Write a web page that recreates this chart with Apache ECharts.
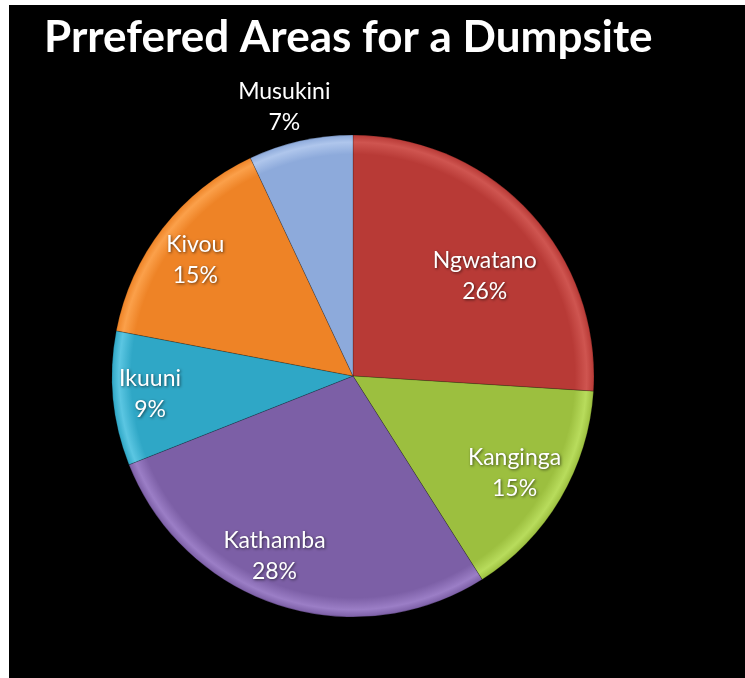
<!DOCTYPE html>
<html>
<head>
<meta charset="utf-8">
<style>
html,body{margin:0;padding:0;background:#fff;}
#c{position:absolute;left:9px;top:5px;width:736px;height:673px;background:#000;}
</style>
<script src="https://cdn.jsdelivr.net/npm/echarts@6/dist/echarts.min.js"></script>
</head>
<body>
<div id="c"></div>
<script>
var titleText = 'Prrefered Areas for a Dumpsite';
var categories = ['Ngwatano', 'Kanginga', 'Kathamba', 'Ikuuni', 'Kivou', 'Musukini'];
var values = [26, 15, 28, 9, 15, 7];
var colors = ['#B83A36', '#9CBF3F', '#7C5FA6', '#2FA7C6', '#EE8326', '#8DAADB'];
var lightColors = ['#CF5550', '#B8DC5C', '#9B7EC6', '#5BC6E2', '#FBA04A', '#AFC6EC'];
// label nudges (px) relative to the library's label placement
var nudgeX = [-11, -7, -18, -8, -3, -26];
var nudgeY = [34, -3, -6, 0, 4, -78];

var cx = 344, cy = 371, R = 241;
var chart = echarts.init(document.getElementById('c'), null, {renderer: 'canvas'});

function grad(i) {
  return {
    type: 'radial', x: cx, y: cy, r: R, global: true,
    colorStops: [
      {offset: 0, color: colors[i]},
      {offset: 0.92, color: colors[i]},
      {offset: 0.97, color: lightColors[i]},
      {offset: 1, color: colors[i]}
    ]
  };
}

var mainData = categories.map(function (n, i) {
  return {name: n, value: values[i], itemStyle: {color: grad(i)}};
});
var labelData = categories.map(function (n, i) {
  return {name: n, value: values[i]};
});

chart.setOption({
  backgroundColor: '#000',
  animation: false,
  title: {
    text: titleText,
    left: 30, top: 6,
    textStyle: {color: '#fff', fontFamily: 'Lato', fontWeight: 'bold', fontSize: 44}
  },
  series: [
    {
      type: 'pie',
      center: [cx, cy],
      radius: [0, R],
      startAngle: 90,
      clockwise: true,
      avoidLabelOverlap: false,
      label: {show: false},
      labelLine: {show: false},
      itemStyle: {borderColor: 'rgba(0,0,0,0.2)', borderWidth: 1},
      emphasis: {disabled: true},
      data: mainData
    },
    {
      type: 'pie',
      center: [cx, cy],
      radius: [R * 0.72, R * 0.88],
      startAngle: 90,
      clockwise: true,
      avoidLabelOverlap: false,
      silent: true,
      itemStyle: {color: 'rgba(0,0,0,0)'},
      emphasis: {disabled: true},
      labelLine: {show: false},
      label: {
        show: true,
        position: 'inside',
        formatter: function (p) { return p.name + '\n' + Math.round(p.percent) + '%'; },
        color: '#fff',
        fontFamily: 'Lato',
        fontSize: 23,
        lineHeight: 31,
        textShadowColor: 'rgba(0,0,0,0.6)',
        textShadowBlur: 3,
        textShadowOffsetX: 1,
        textShadowOffsetY: 1
      },
      labelLayout: function (p) {
        return {dx: nudgeX[p.dataIndex], dy: nudgeY[p.dataIndex]};
      },
      data: labelData
    }
  ]
});
</script>
</body>
</html>
